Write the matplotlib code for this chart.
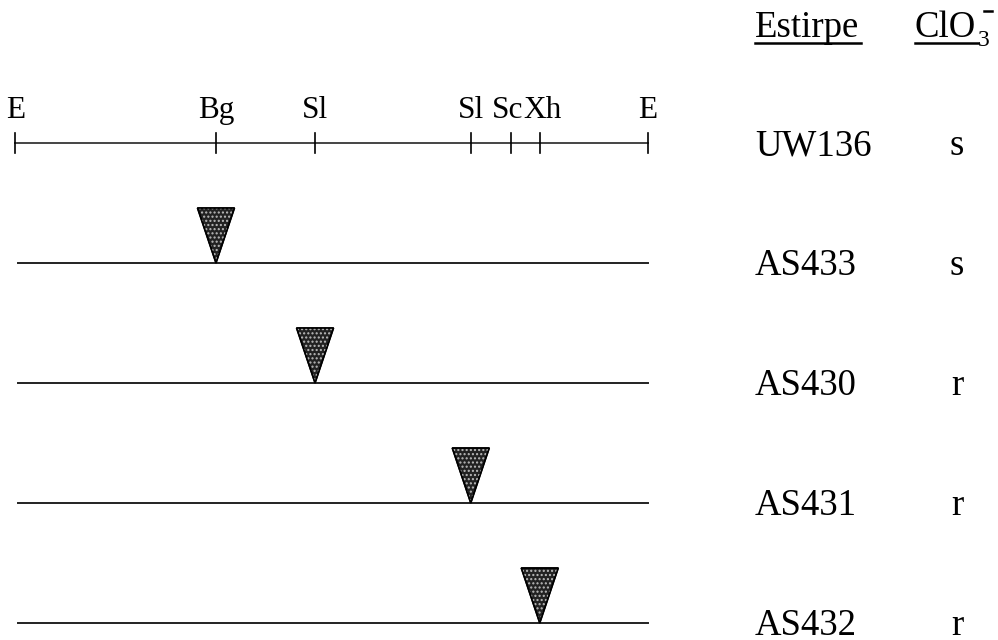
import matplotlib
matplotlib.use("Agg")
import matplotlib.pyplot as plt
from matplotlib.patches import Polygon

plt.rcParams['hatch.linewidth'] = 1.0

# ---- data ----
site_labels = ["E", "Bg", "Sl", "Sl", "Sc", "Xh", "E"]
site_positions = [0.0, 31.75, 47.4, 72.0, 78.4, 82.9, 100.0]   # map units
strains = ["UW136", "AS433", "AS430", "AS431", "AS432"]
chlorate = ["s", "s", "r", "r", "r"]
insertion_site = [None, 1, 2, 3, 5]   # index into site_positions

# ---- layout (pixel based) ----
W, H = 998, 640
px_per_unit = 6.33
x0_px = 15
row0_px = 143
row_px = 120
label_dx_px = [1, 0, 0, 0, -4, 3, 0]

def px_x(px):
    return (px - x0_px) / px_per_unit

def px_y(py):
    return (py - row0_px) / row_px

fig = plt.figure(figsize=(W / 100, H / 100), dpi=100)
ax = fig.add_axes([0, 0, 1, 1])
ax.set_xlim(px_x(0), px_x(W))
ax.set_ylim(px_y(H), px_y(0))
ax.axis("off")

tick_font = dict(family="Liberation Serif", size=22.5, color="black")
font = dict(family="Liberation Serif", size=26.5, color="black")

# restriction map (row 0)
ax.plot([site_positions[0], site_positions[-1]], [0, 0], color="#444444", lw=1.4)
tick_half = 10 / row_px
for lab, pos, dx in zip(site_labels, site_positions, label_dx_px):
    ax.plot([pos, pos], [-tick_half, tick_half], color="black", lw=1.2)
    ax.text(pos + dx / px_per_unit, px_y(118), lab, ha="center", va="baseline",
            **tick_font)

# mutant rows
tri_w = 37 / px_per_unit
tri_h = 55 / row_px
for i, (name, cl, ins) in enumerate(zip(strains, chlorate, insertion_site)):
    if i > 0:
        ax.plot([0.5, site_positions[-1]], [i, i], color="#222222", lw=1.4)
        x = site_positions[ins]
        verts = [(x - tri_w / 2, i - tri_h), (x + tri_w / 2, i - tri_h), (x, i)]
        ax.add_patch(Polygon(verts, closed=True, facecolor="#222222",
                             edgecolor="black", lw=1.0, zorder=3))
        ax.add_patch(Polygon(verts, closed=True, facecolor="none",
                             edgecolor="#bbbbbb", lw=0, hatch="....", zorder=4))
        ax.add_patch(Polygon(verts, closed=True, facecolor="none",
                             edgecolor="black", lw=1.2, zorder=5))
    yb = i + 12 / row_px
    ax.text(px_x(755), yb, name, ha="left", va="baseline", **font)
    ax.text(px_x(957), yb, cl, ha="center", va="baseline", **font)

# headers
hy = px_y(37)
ax.text(px_x(755), hy, "Estirpe", ha="left", va="baseline", **font)
ax.plot([px_x(755), px_x(861)], [px_y(43), px_y(43)], color="black", lw=1.8)
ax.text(px_x(915), hy, "ClO", ha="left", va="baseline", **font)
ax.plot([px_x(915), px_x(978)], [px_y(43), px_y(43)], color="black", lw=1.8)
ax.text(px_x(978), px_y(46), "3", ha="left", va="baseline",
        family="Liberation Serif", size=17, color="black")
ax.plot([px_x(984), px_x(992)], [px_y(11), px_y(11)], color="black", lw=1.8)

fig.savefig("out.png", dpi=100)
